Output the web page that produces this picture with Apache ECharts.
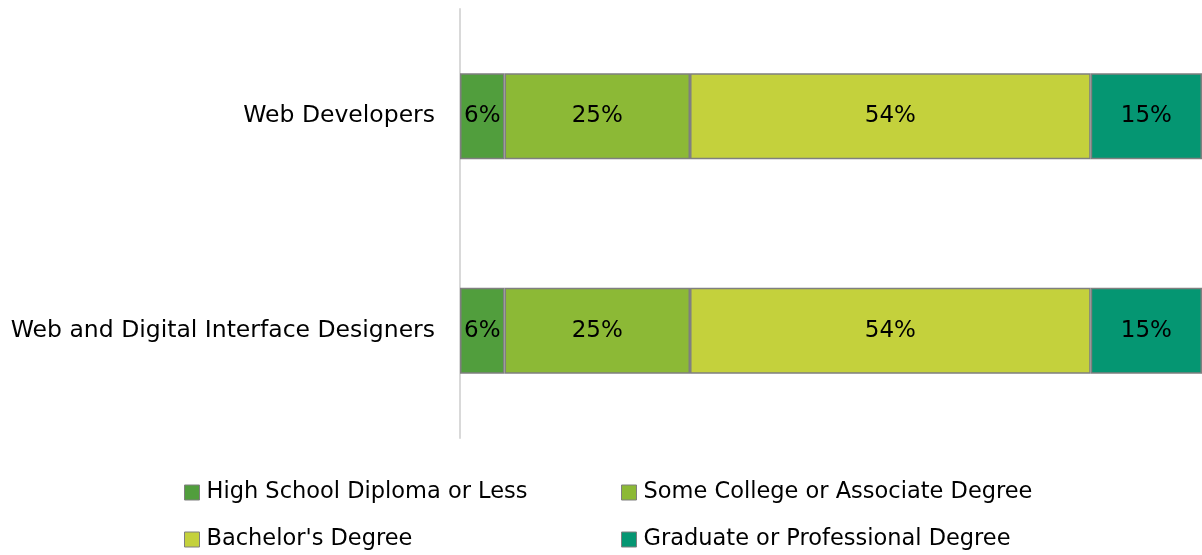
<!DOCTYPE html>
<html>
<head>
<meta charset="utf-8">
<script src="https://cdn.jsdelivr.net/npm/echarts@6/dist/echarts.min.js"></script>
<style>
  html, body { margin: 0; padding: 0; background: #ffffff; }
  #chart { width: 1202px; height: 555px; }
</style>
</head>
<body>
<div id="chart"></div>
<script>
// Occupations shown on the category axis (top to bottom)
const occupations = ['Web Developers', 'Web and Digital Interface Designers'];

// Share of workers by education level, percent
const highSchool = [6, 6];
const someCollege = [25, 25];
const bachelors = [54, 54];
const graduate = [15, 15];

const seriesNames = [
  'High School Diploma or Less',
  'Some College or Associate Degree',
  "Bachelor's Degree",
  'Graduate or Professional Degree'
];
const seriesValues = [highSchool, someCollege, bachelors, graduate];
const seriesColors = ['#519E3D', '#8CB936', '#C4D13C', '#059672'];

const FONT = '"DejaVu Sans", sans-serif';

const chart = echarts.init(document.getElementById('chart'));

const series = seriesNames.map((name, i) => ({
  name: name,
  type: 'bar',
  stack: 'total',
  barWidth: 86,
  data: seriesValues[i],
  itemStyle: { color: seriesColors[i], borderColor: '#7f7f7f', borderWidth: 1.5 },
  label: {
    show: true,
    position: 'inside',
    formatter: '{c}%',
    color: '#000000',
    fontSize: 23,
    fontFamily: FONT
  },
  emphasis: { disabled: true }
}));

// One legend entry per component so the two columns line up
const legendSlots = [
  { name: seriesNames[0], left: 184, top: 481 },
  { name: seriesNames[1], left: 621, top: 481 },
  { name: seriesNames[2], left: 184, top: 528 },
  { name: seriesNames[3], left: 621, top: 528 }
];
const legends = legendSlots.map(s => ({
  orient: 'horizontal',
  left: s.left,
  top: s.top,
  padding: 0,
  data: [s.name],
  itemWidth: 15,
  itemHeight: 15,
  icon: 'rect',
  selectedMode: false,
  textStyle: { fontSize: 22.5, color: '#000000', fontFamily: FONT, padding: [0, 0, 0, 2] },
  itemStyle: { borderColor: '#7f7f7f', borderWidth: 1 }
}));

chart.setOption({
  animation: false,
  backgroundColor: '#ffffff',
  grid: { left: 460, right: 0, top: 9, bottom: 117, containLabel: false },
  xAxis: {
    type: 'value',
    min: 0,
    max: 100,
    show: false
  },
  yAxis: {
    type: 'category',
    data: occupations,
    inverse: true,
    axisLine: { show: true, lineStyle: { color: '#d9d9d9', width: 2 } },
    axisTick: { show: false },
    axisLabel: { color: '#000000', fontSize: 23.5, fontFamily: FONT, margin: 25 }
  },
  legend: legends,
  series: series
});
</script>
</body>
</html>
